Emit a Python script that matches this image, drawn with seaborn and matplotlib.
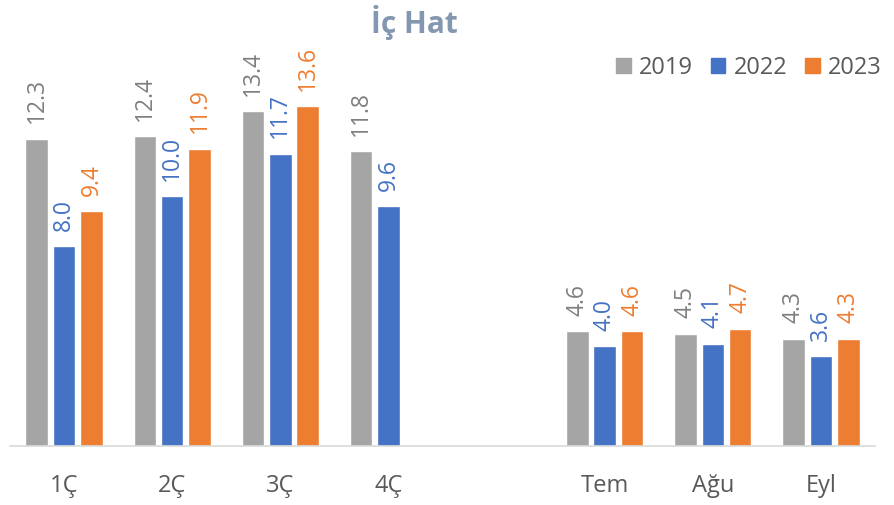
import matplotlib
matplotlib.use("Agg")
import matplotlib.pyplot as plt
import seaborn as sns
import pandas as pd
import numpy as np

# data
categories = ["1Ç", "2Ç", "3Ç", "4Ç", "", "Tem", "Ağu", "Eyl"]
years = ["2019", "2022", "2023"]
v2019 = [12.3, 12.4, 13.4, 11.8, np.nan, 4.6, 4.5, 4.3]
v2022 = [8.0, 10.0, 11.7, 9.6, np.nan, 4.0, 4.1, 3.6]
v2023 = [9.4, 11.9, 13.6, np.nan, np.nan, 4.6, 4.7, 4.3]

bar_colors = ["#A5A5A5", "#4472C4", "#ED7D31"]
label_colors = ["#7F7F7F", "#4472C4", "#ED7D31"]

rows = []
for yr, vals in zip(years, [v2019, v2022, v2023]):
    for c, v in zip(categories, vals):
        if not np.isnan(v):
            rows.append({"cat": c, "year": yr, "val": v})
df = pd.DataFrame(rows)

sns.set_theme(style="white")
plt.rcParams["font.family"] = ["Open Sans", "DejaVu Sans"]

fig = plt.figure(figsize=(8.94, 5.05), dpi=100)
ax = fig.add_axes([10 / 894, 59 / 505, 865 / 894, 400 / 505])

sns.barplot(data=df, x="cat", y="val", hue="year", order=categories,
            hue_order=years, palette=bar_colors, width=0.76, gap=0.18,
            errorbar=None, saturation=1, ax=ax, legend=False)

for cont, col in zip(ax.containers, label_colors):
    ax.bar_label(cont, fmt="%.1f", rotation=90, padding=11, color=col,
                 fontsize=16.5)

ax.set_ylim(0, 16)
ax.set_xlim(-0.5, len(categories) - 0.5)
ax.set_xlabel("")
ax.set_ylabel("")
ax.set_yticks([])
ax.tick_params(axis="x", length=0, labelsize=17, labelcolor="#595959", pad=20)
for s in ["top", "right", "left"]:
    ax.spines[s].set_visible(False)
ax.spines["bottom"].set_color("#D9D9D9")
ax.spines["bottom"].set_linewidth(1.2)

fig.text(414 / 894, 1 - 23 / 505, "İç Hat", ha="center", va="center",
         fontsize=21.5, fontweight="bold", color="#8497B0")

handles = [plt.Rectangle((0, 0), 1, 1, color=c) for c in bar_colors]
fig.legend(handles, years, loc="center right", bbox_to_anchor=(1.01, 1 - 68 / 505),
           ncol=3, frameon=False, fontsize=17, handlelength=0.62, handleheight=0.62,
           handletextpad=0.35, columnspacing=0.75, labelcolor="#595959")

fig.savefig("out.png", dpi=100)
